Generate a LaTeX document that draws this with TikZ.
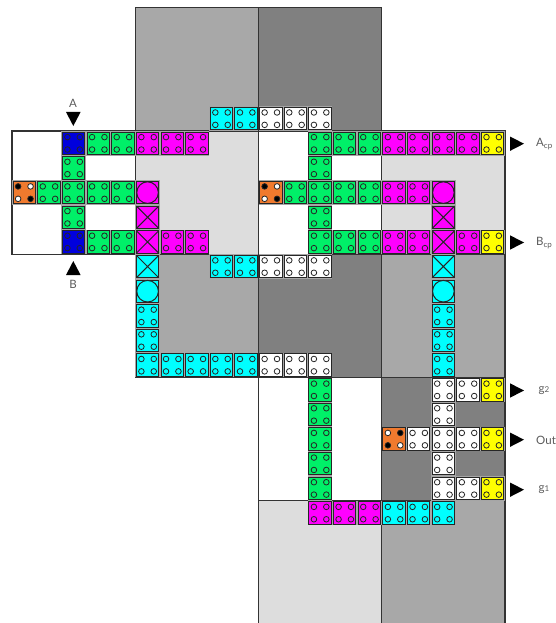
\documentclass[tikz,border=0pt]{standalone}
\usepackage{fontspec}
\setmainfont{Lato}
\definecolor{tgreen}{HTML}{00F068}
\definecolor{tblue}{HTML}{0000DD}
\definecolor{torange}{HTML}{F07A2E}
\definecolor{tmag}{HTML}{FF00FF}
\definecolor{tcyan}{HTML}{00FFFF}
\definecolor{tyel}{HTML}{FFFF00}
\definecolor{rmid}{HTML}{A8A8A8}
\definecolor{rdark}{HTML}{808080}
\definecolor{rlight}{HTML}{DDDDDD}
\definecolor{tlabel}{HTML}{5A5A5A}
\def\pitch{24.65}
\def\halfp{12.32}
\tikzset{
  tilebox/.style={draw=black!85,line width=1pt},
  halo/.style={draw=black!35,line width=2.2pt},
  peg/.style={draw=black!85,line width=0.8pt},
  region/.style={draw=black!80,line width=1.1pt},
  mark tri/.style={fill=black,draw=none},
  lab/.style={text=tlabel,font=\fontsize{11.5}{12}\selectfont,inner sep=0pt},
}
\newcommand{\cellbase}[3]{%
  \path[halo] (-11.2,-11.2) rectangle (11.2,11.2);
  \path[tilebox,fill=#1] (-11.2,-11.2) rectangle (11.2,11.2);}
\newcommand{\tileP}[3]{%
  \begin{scope}[shift={({12+\pitch*#2+\halfp},{131+\pitch*#3+\halfp})}]
  \cellbase{#1}{}{}
  \foreach \px in {-6.2,6.2}\foreach \py in {-6.2,6.2}\path[peg,fill=#1] (\px,\py) circle (2.8);
  \end{scope}}
\newcommand{\tileX}[3]{%
  \begin{scope}[shift={({12+\pitch*#2+\halfp},{131+\pitch*#3+\halfp})}]
  \cellbase{#1}{}{}
  \draw[tilebox] (-11.2,-11.2) -- (11.2,11.2) (-11.2,11.2) -- (11.2,-11.2);
  \end{scope}}
\newcommand{\tileC}[3]{%
  \begin{scope}[shift={({12+\pitch*#2+\halfp},{131+\pitch*#3+\halfp})}]
  \cellbase{#1}{}{}
  \path[tilebox,fill=#1] (0,0) circle (10.8);
  \end{scope}}
% orange tile; #1 top-left/bottom-right peg colour, #2 the other pair
\newcommand{\tileO}[4]{%
  \begin{scope}[shift={({12+\pitch*#3+\halfp},{131+\pitch*#4+\halfp})}]
  \cellbase{torange}{}{}
  \path[peg,fill=#1] (-6.2,-6.2) circle (2.8) (6.2,6.2) circle (2.8);
  \path[peg,fill=#2] (6.2,-6.2) circle (2.8) (-6.2,6.2) circle (2.8);
  \end{scope}}
\begin{document}
\begin{tikzpicture}[x=1pt,y=-1pt]
\useasboundingbox (0,0) rectangle (556,623);
\clip (0,0) rectangle (556,623);
% regions
\foreach \ca/\ra/\cb/\rb/\fc in {
  0/0/5/5/white,
  5/-5/10/0/rmid, 10/-5/15/0/rdark,
  5/0/10/5/rlight, 10/0/15/5/white, 15/0/20/5/rlight,
  5/5/10/10/rmid, 10/5/15/10/rdark, 15/5/20/10/rmid,
  10/10/15/15/white, 15/10/20/15/rdark,
  10/15/15/20/rlight, 15/15/20/20/rmid}
  \path[region,fill=\fc] ({12+\pitch*\ca},{131+\pitch*\ra}) rectangle ({12+\pitch*\cb},{131+\pitch*\rb});
% plain tiles
\foreach \c/\r in {3/0,4/0,2/1,1/2,2/2,3/2,4/2,2/3,3/4,4/4,
   12/0,13/0,14/0,12/1,11/2,12/2,13/2,14/2,12/3,12/4,13/4,14/4,
   12/10,12/11,12/12,12/13,12/14}
  \tileP{tgreen}{\c}{\r};
\foreach \c/\r in {2/0,2/4} \tileP{tblue}{\c}{\r};
\foreach \c/\r in {5/0,6/0,7/0,15/0,16/0,17/0,18/0,15/2,16/2,6/4,7/4,15/4,16/4,18/4,12/15,13/15,14/15}
  \tileP{tmag}{\c}{\r};
\foreach \c/\r in {8/-1,9/-1,8/5,9/5,5/7,5/8,5/9,6/9,7/9,8/9,9/9,17/7,17/8,17/9,15/15,16/15,17/15}
  \tileP{tcyan}{\c}{\r};
\foreach \c/\r in {10/-1,11/-1,12/-1,10/5,11/5,12/5,10/9,11/9,12/9,17/10,18/10,17/11,16/12,17/12,18/12,17/13,17/14,18/14}
  \tileP{white}{\c}{\r};
\foreach \c/\r in {19/0,19/4,19/10,19/12,19/14} \tileP{tyel}{\c}{\r};
\foreach \c/\r in {5/3,5/4,17/3,17/4} \tileX{tmag}{\c}{\r};
\foreach \c/\r in {5/5,17/5} \tileX{tcyan}{\c}{\r};
\foreach \c/\r in {5/2,17/2} \tileC{tmag}{\c}{\r};
\foreach \c/\r in {5/6,17/6} \tileC{tcyan}{\c}{\r};
\tileO{black}{white}{0}{2}
\tileO{black}{white}{10}{2}
\tileO{white}{black}{15}{12}
% markers
\path[mark tri] (66,112) -- (80.6,112) -- (73.3,126) -- cycle;
\path[mark tri] (66,275) -- (80.6,275) -- (73.3,261) -- cycle;
\foreach \y in {143.7,242.5,390.5,439.7,489.7}
  \path[mark tri] (510,\y-7.2) -- (524,\y) -- (510,\y+7.2) -- cycle;
\node[lab] (labA) at (73,103) {A};
\node[lab] (labB) at (73,284) {B};
\node[lab,anchor=west] (labAcp) at (536,144) {A\raisebox{-1.5pt}{\fontsize{8}{8}\selectfont cp}};
\node[lab,anchor=west] (labBcp) at (536,243) {B\raisebox{-1.5pt}{\fontsize{8}{8}\selectfont cp}};
\node[lab,anchor=west] (labg2) at (538.5,391) {g\raisebox{-0pt}{\fontsize{8}{8}\selectfont 2}};
\node[lab,anchor=west] (labOut) at (536,440) {Out};
\node[lab,anchor=west] (labg1) at (538.5,490) {g\raisebox{-0pt}{\fontsize{8}{8}\selectfont 1}};
\end{tikzpicture}
\end{document}
